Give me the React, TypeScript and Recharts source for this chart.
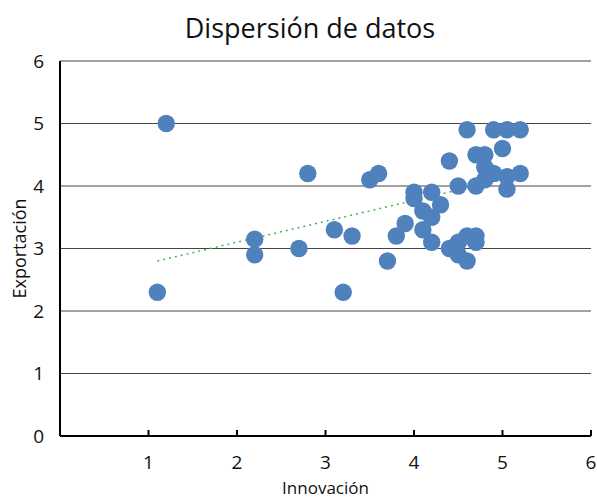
import { ScatterChart, Scatter, XAxis, YAxis, CartesianGrid, Label } from "recharts";

const INNOVACION = [1.2, 1.1, 2.2, 2.2, 2.8, 2.7, 3.1, 3.3, 3.2, 3.5, 3.6, 3.7, 3.8, 3.9, 4.0, 4.0, 4.1, 4.1, 4.2, 4.2, 4.2, 4.3, 4.4, 4.4, 4.5, 4.5, 4.5, 4.6, 4.6, 4.6, 4.7, 4.7, 4.7, 4.7, 4.8, 4.8, 4.8, 4.9, 4.9, 5.0, 5.05, 5.05, 5.05, 5.2, 5.2];
const EXPORTACION = [5.0, 2.3, 3.15, 2.9, 4.2, 3.0, 3.3, 3.2, 2.3, 4.1, 4.2, 2.8, 3.2, 3.4, 3.9, 3.8, 3.6, 3.3, 3.9, 3.5, 3.1, 3.7, 4.4, 3.0, 4.0, 3.1, 2.9, 4.9, 3.2, 2.8, 4.5, 4.0, 3.2, 3.1, 4.5, 4.3, 4.1, 4.9, 4.2, 4.6, 4.9, 4.15, 3.95, 4.9, 4.2];
const TREND_X = [1.1, 5.2];
const TREND_Y = [2.8, 4.17];
const X_TICKS = [1, 2, 3, 4, 5, 6];
const Y_TICKS = [0, 1, 2, 3, 4, 5, 6];

const points = INNOVACION.map((x, i) => ({ x, y: EXPORTACION[i] }));
const trend = TREND_X.map((x, i) => ({ x, y: TREND_Y[i] }));

const FONT = "'Open Sans', sans-serif";

const XTick = (props: any) => {
  const { x, y, payload } = props;
  return (
    <g>
      <line x1={x} x2={x} y1={y - 6} y2={y} stroke="#000" strokeWidth={2} />
      <text x={x} y={y + 33} textAnchor="middle" fontSize={19} fontFamily={FONT} fill="#111">
        {payload.value}
      </text>
    </g>
  );
};

export default function App() {
  return (
    <div style={{ position: "absolute", left: 0, top: 0, width: 597, height: 498, background: "#fff" }}>
      <div style={{ position: "absolute", left: 0, top: 9, width: 620, textAlign: "center", fontFamily: FONT, fontSize: 27, color: "#111" }}>
        Dispersión de datos
      </div>
      <ScatterChart width={597} height={498} margin={{ top: 61, right: 6, bottom: 0, left: 0 }}>
        <CartesianGrid vertical={false} stroke="#444" strokeWidth={1} />
        <XAxis
          type="number"
          dataKey="x"
          domain={[0, 6]}
          ticks={X_TICKS}
          allowDataOverflow
          height={62}
          axisLine={{ stroke: "#000", strokeWidth: 2 }}
          tickLine={false}
          tickSize={0}
          tickMargin={0}
          tick={<XTick />}
        >
          <Label value="Innovación" position="insideBottom" offset={4} fontSize={17} fontFamily={FONT} fill="#111" />
        </XAxis>
        <YAxis
          type="number"
          dataKey="y"
          domain={[0, 6]}
          ticks={Y_TICKS}
          width={60}
          axisLine={{ stroke: "#000", strokeWidth: 2 }}
          tickLine={false}
          tickMargin={10}
          tick={{ fontSize: 19, fontFamily: FONT, fill: "#111" }}
        >
          <Label value="Exportación" angle={-90} position="insideLeft" offset={20} fontSize={18} fontFamily={FONT} fill="#111" style={{ textAnchor: "middle" }} />
        </YAxis>
        <Scatter
          data={trend}
          line={{ stroke: "#4CAF50", strokeWidth: 1.5, strokeDasharray: "2 4" }}
          shape={() => null}
          isAnimationActive={false}
        />
        <Scatter
          data={points}
          shape={(p: any) => <circle cx={p.cx} cy={p.cy} r={8.7} fill="#4F81BD" />}
          isAnimationActive={false}
        />
      </ScatterChart>
    </div>
  );
}
